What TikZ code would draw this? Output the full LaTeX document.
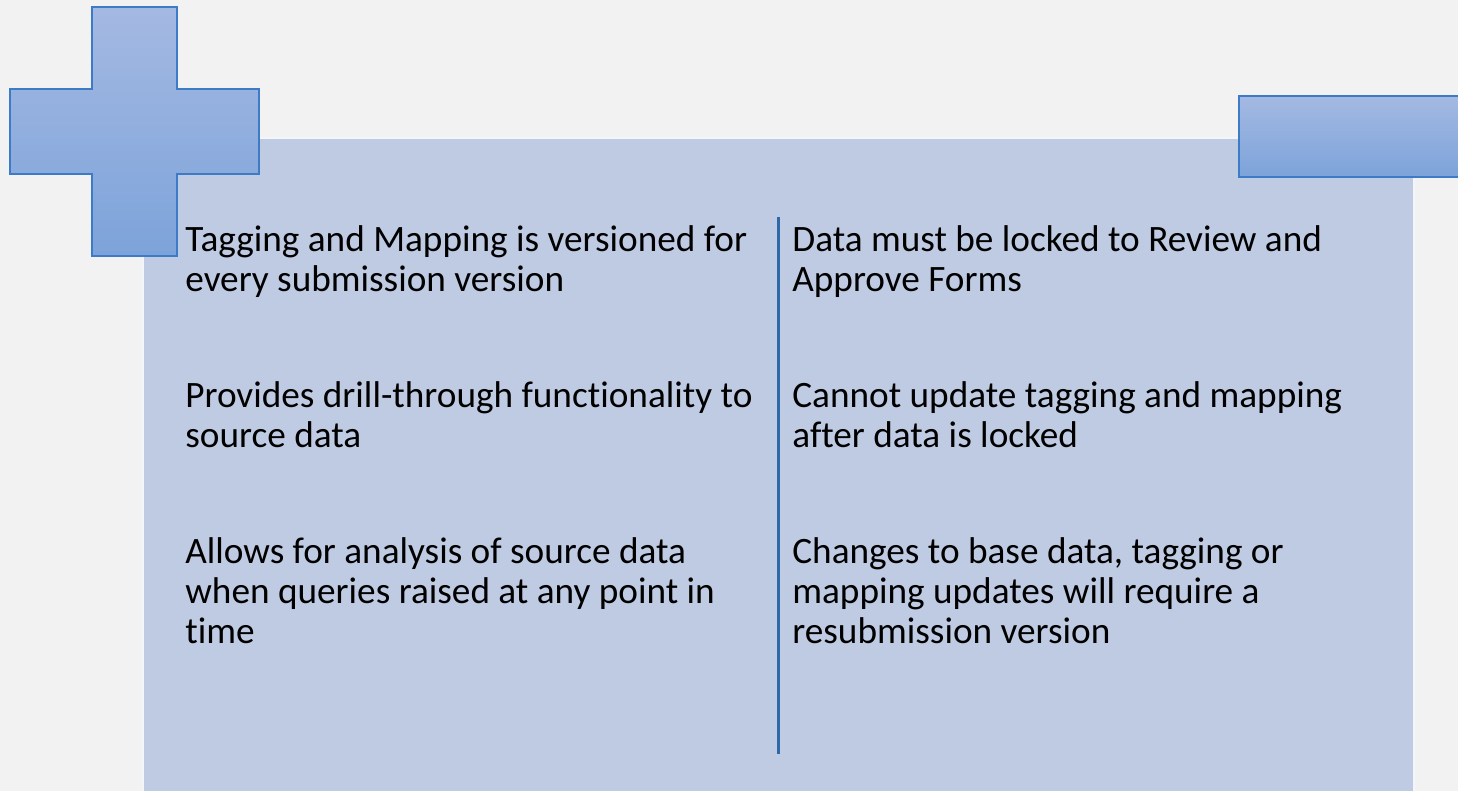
\documentclass[tikz,border=0pt]{standalone}
\usepackage{fontspec}
\setmainfont{Carlito}[Ligatures=NoCommon]
\usetikzlibrary{positioning}
\definecolor{pagegray}{HTML}{F2F2F2}
\definecolor{panelblue}{HTML}{BFCBE3}
\definecolor{shapetop}{HTML}{A4B9E2}
\definecolor{shapebottom}{HTML}{7DA3DA}
\definecolor{shapeedge}{HTML}{3E7BC6}
\definecolor{dividerblue}{HTML}{2F68A8}

\begin{document}
\begin{tikzpicture}[x=0.02cm, y=0.02cm,
    itemtext/.style={anchor=base west, align=left, inner sep=0pt, text=black, font=\fontsize{21.2}{23}\selectfont},
    blockshape/.style={top color=shapetop, bottom color=shapebottom, draw=shapeedge, line width=1.1pt},]
    % page
    \fill[pagegray] (0,0) rectangle (1458,791);
    \useasboundingbox (0,0) rectangle (1458,791);
    % panel
    \filldraw[fill=panelblue, draw=white!80!panelblue, line width=0.8pt] (143,-5) rectangle (1414,653);
    % plus and minus
    \draw[blockshape] (92,784) -- (177,784) -- (177,702) -- (259,702) -- (259,617) -- (177,617)
        -- (177,535) -- (92,535) -- (92,617) -- (10,617) -- (10,702) -- (92,702) -- cycle;
    \draw[blockshape] (1239,614) rectangle (1470,695);
    % divider
    \coordinate (top) at (778,574);
    \coordinate (bottom) at (778,37);
    \draw[dividerblue, line width=1.7pt] (top) -- (bottom);
    % left column (anchored at the last line)
    \node[itemtext] (L1) at (185,499) {Tagging and Mapping is versioned for\\every submission version};
    \node[itemtext] (L2) at (185,343) {Provides drill-through functionality to\\source data};
    \node[itemtext] (L3) at (185,147) {Allows for analysis of source data\\when queries raised at any point in\\time};
    % right column
    \node[itemtext] (R1) at (792,499) {Data must be locked to Review and\\Approve Forms};
    \node[itemtext] (R2) at (792,343) {Cannot update tagging and mapping\\after data is locked};
    \node[itemtext] (R3) at (792,147) {Changes to base data, tagging or\\mapping updates will require a\\resubmission version};
\end{tikzpicture}
\end{document}
